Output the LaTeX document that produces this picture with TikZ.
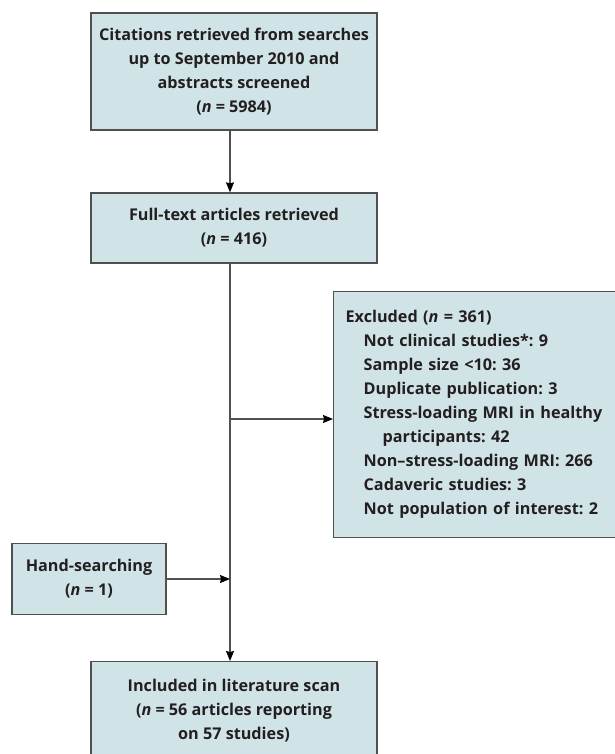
\documentclass[tikz,border=0pt]{standalone}
\usepackage{fontspec}
\setmainfont{Open Sans}
\usepackage{tikz}
\usetikzlibrary{arrows.meta,calc}
\definecolor{boxfill}{RGB}{208,227,230}
\definecolor{boxline}{RGB}{80,80,80}
\definecolor{inktext}{RGB}{35,31,32}
\tikzset{
  flowbox/.style={draw=boxline,line width=1.3pt,fill=boxfill,text=inktext,
    font=\fontsize{16.2}{24}\selectfont\bfseries\frenchspacing,align=center,inner sep=0pt},
  flowline/.style={draw=boxline,line width=1.2pt},
  flowarrow/.style={flowline,-{Stealth[length=10pt,width=8pt,inset=1pt,fill=black,color=black]}}
}
\newcommand{\nn}{\textit{n}}

\begin{document}
\begin{tikzpicture}[x=1pt,y=1pt]
			\useasboundingbox (0,0) rectangle (614,-754);
			% boxes
			\node [flowbox,minimum width=286,minimum height=117] (cit) at (234,-71.5)
				{Citations retrieved from searches\\up to September 2010 and\\abstracts screened\\(\nn{} = 5984)};
			\node [flowbox,minimum width=286,minimum height=70] (full) at (234,-228)
				{Full-text articles retrieved\\(\nn{} = 416)};
			\node [flowbox,anchor=north west,minimum height=246,text width=273,
				inner xsep=12,align=left] (excl) at (333,-291)
				{Excluded (\nn{} = 361)\\
				\hspace*{18pt}Not clinical studies*: 9\\
				\hspace*{18pt}Sample size <10: 36\\
				\hspace*{18pt}Duplicate publication: 3\\
				\hspace*{18pt}Stress-loading MRI in healthy\\
				\hspace*{37pt}participants: 42\\
				\hspace*{18pt}Non--stress-loading MRI: 266\\
				\hspace*{18pt}Cadaveric studies: 3\\
				\hspace*{18pt}Not population of interest: 2};
			\node [flowbox,minimum width=154,minimum height=71] (hand) at (89,-579)
				{Hand-searching\\(\nn{} = 1)};
			\node [flowbox,anchor=north,minimum width=286,minimum height=98] (incl) at (234,-661)
				{Included in literature scan\\(\nn{} = 56 articles reporting\\on 57 studies)};
		
			% connectors
			\coordinate (trunk) at (230,0);
			\coordinate (split) at (230,-419);
			\draw [flowarrow] (cit.south -| trunk) -- (full.north -| trunk);
			\draw [flowarrow] (full.south -| trunk) -- (incl.north -| trunk);
			\draw [flowarrow] (split) -- (split -| excl.west);
			\draw [flowarrow] (hand.east) -- (hand.east -| trunk);
		\end{tikzpicture}
\end{document}
